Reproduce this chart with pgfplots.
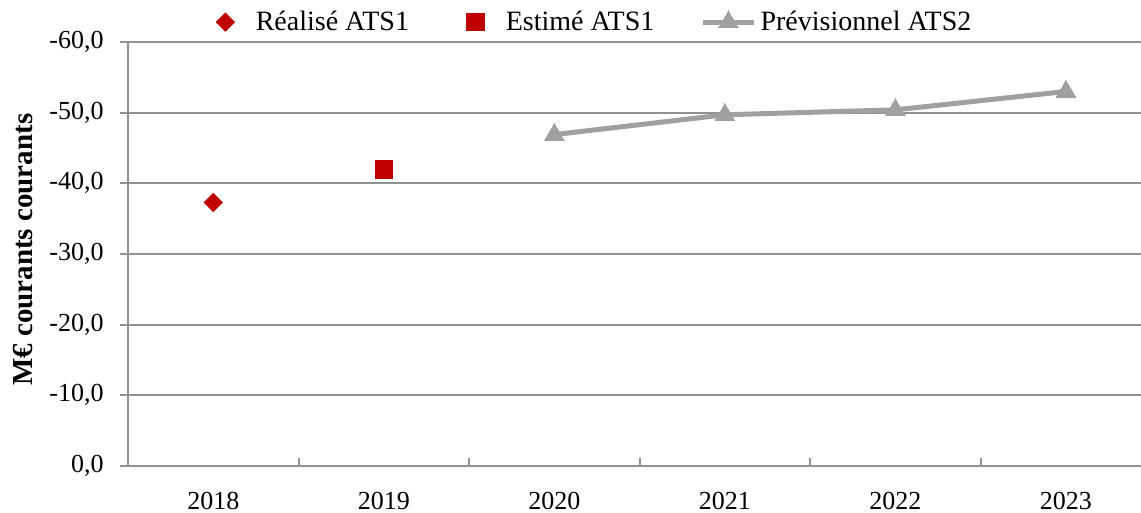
\documentclass[border=0pt]{standalone}
\usepackage{pgfplots}
\pgfplotsset{compat=1.18}
\usepackage{fontspec}
\setmainfont{Liberation Serif}
\definecolor{myred}{RGB}{192,0,0}
\definecolor{linegray}{RGB}{160,160,160}
\definecolor{axisgray}{RGB}{145,145,145}
\begin{document}
\begin{tikzpicture}
\begin{axis}[
  at={(0,0)}, anchor=south west,
  scale only axis, width=506.5pt, height=212pt,
  xmin=-0.5, xmax=5.44, ymin=-60, ymax=0, y dir=reverse,
  font=\fontsize{13}{15.6}\selectfont,
  xtick={0,...,5}, xticklabels={2018,2019,2020,2021,2022,2023},
  minor xtick={-0.5,0.5,1.5,2.5,3.5,4.5},
  ytick={-60,-50,...,0},
  xtick pos=bottom, ytick pos=left,
  axis line style={draw=none},
  ymajorgrids, grid style={axisgray, line width=1pt},
  tick align=inside,
  major tick length=4pt, minor tick length=4pt,
  tick style={axisgray, line width=1pt},
  major x tick style={draw=none},
  ytick style={xshift=-4pt},
  xticklabel style={anchor=base, yshift=-21.5pt, inner sep=0pt},
  yticklabel style={anchor=east, xshift=-12pt, inner sep=0pt,
     /pgf/number format/.cd, fixed, fixed zerofill, precision=1, use comma, assume math mode=true},
  ylabel={M€ courants courants},
  ylabel style={at={(axis description cs:-0.1037,0.51)}, anchor=center,
     font=\fontsize{14.5}{17}\selectfont\bfseries},
  legend columns=3,
  legend style={draw=none, fill=none, inner sep=0pt, outer sep=0pt,
     at={(axis description cs:0.076,1.047)}, anchor=west,
     font=\fontsize{14}{16.8}\selectfont,
     /tikz/every even column/.append style={column sep=21pt}},
  clip=false,
]
\addplot[only marks, mark=square*, mark size=3.2pt, mark options={rotate=45, fill=myred, draw=myred},
  legend image code/.code={\path (0pt,0pt) (23pt,0pt); \draw[mark repeat=2,mark phase=2] plot coordinates {(0pt,0pt) (10pt,0pt) (23pt,0pt)};}]
  coordinates {(0,-37.3)};
\addlegendentry{Réalisé ATS1}
\addplot[only marks, mark=square*, mark size=4.4pt, mark options={fill=myred, draw=myred},
  legend image code/.code={\path (0pt,0pt) (23pt,0pt); \draw[mark repeat=2,mark phase=2] plot coordinates {(0pt,0pt) (10pt,0pt) (23pt,0pt)};}]
  coordinates {(1,-42.0)};
\addlegendentry{Estimé ATS1}
\addplot[linegray, line width=2.5pt, mark=triangle*, mark size=5.6pt, mark options={fill=linegray, draw=linegray, line width=0pt},
  legend image code/.code={\draw[mark repeat=2,mark phase=2] plot coordinates {(0cm,0cm) (0.45cm,0cm) (0.9cm,0cm)};}]
  coordinates {(2,-46.9) (3,-49.7) (4,-50.4) (5,-53.0)};
\addlegendentry{Prévisionnel ATS2}
\draw[axisgray, line width=1pt] (axis cs:-0.5,0) -- (axis cs:5.44,0);
\draw[axisgray, line width=1pt] (axis cs:-0.5,0) -- (axis cs:-0.5,-60);
\end{axis}
\pgfresetboundingbox
\path[use as bounding box] (-64pt,-23.5pt) rectangle (506.5pt,233pt);
\end{tikzpicture}
\end{document}
